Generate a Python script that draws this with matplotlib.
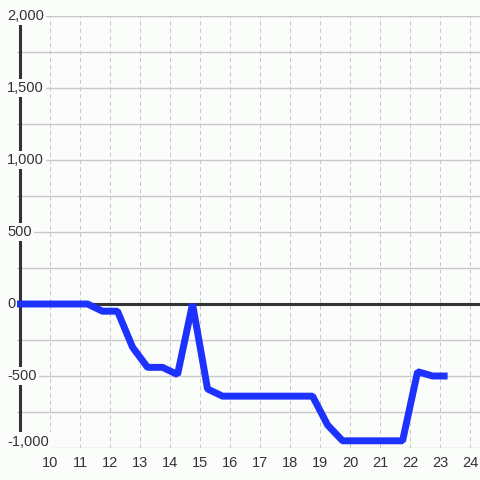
import matplotlib
matplotlib.use("Agg")
import matplotlib.pyplot as plt
from matplotlib.transforms import blended_transform_factory

# half-hourly readings (hour of day, value)
hours = [8.75, 9.25, 9.75, 10.25, 10.75, 11.25, 11.75, 12.25, 12.75, 13.25,
         13.75, 14.25, 14.75, 15.25, 15.75, 16.25, 16.75, 17.25, 17.75, 18.25,
         18.75, 19.25, 19.75, 20.25, 20.75, 21.25, 21.75, 22.25, 22.75, 23.25]
values = [0, 0, 0, 0, 0, 0, -50, -50, -300, -440,
          -440, -490, 0, -590, -640, -640, -640, -640, -640, -640,
          -640, -840, -950, -950, -950, -950, -950, -470, -500, -500]
xticks = list(range(10, 25))
yticks = [-1000, -500, 0, 500, 1000, 1500, 2000]
ylabels = ["-1,000", "-500", "0", "500", "1,000", "1,500", "2,000"]

bg = "#fbfdfb"
txt = "#333333"
grid = "#c8c8c8"

fig = plt.figure(figsize=(4.8, 4.8), dpi=100, facecolor=bg)
ax = fig.add_axes([17 / 480, 32 / 480, 463 / 480, 432 / 480], facecolor=bg)
ax.set_xlim(8.9, 24.33)
ax.set_ylim(-1000, 2000)

for s in ax.spines.values():
    s.set_visible(False)

# grid
for y in range(-1000, 2001, 250):
    if y != 0:
        ax.axhline(y, color=grid, lw=1.0, zorder=1)
for x in xticks:
    ax.axvline(x, color=grid, lw=0.75, ls=(0, (4, 3)), zorder=1)

# axis + zero line
ax.axvline(9.0, color=txt, lw=2.2, zorder=2)
ax.axhline(0, color=txt, lw=2.2, zorder=2)

ax.plot(hours, values, color="#1e32ff", lw=5, zorder=3,
        solid_joinstyle="bevel", solid_capstyle="butt")

ax.set_xticks(xticks)
ax.set_xticklabels([str(x) for x in xticks], fontsize=10.5, color=txt,
                   family="Liberation Sans")
ax.tick_params(axis="x", length=0, pad=6)
ax.set_yticks([])

tr = blended_transform_factory(fig.transFigure, ax.transData)
for y, lab in zip(yticks, ylabels):
    yy = y + 45 if y == -1000 else y
    ax.text(7 / 480, yy, lab, transform=tr, ha="left", va="center",
            fontsize=10.5, color=txt, family="Liberation Sans", zorder=5,
            clip_on=False,
            bbox=dict(facecolor=bg, edgecolor="none", pad=1.5))

fig.savefig("out.png", dpi=100, facecolor=bg)
